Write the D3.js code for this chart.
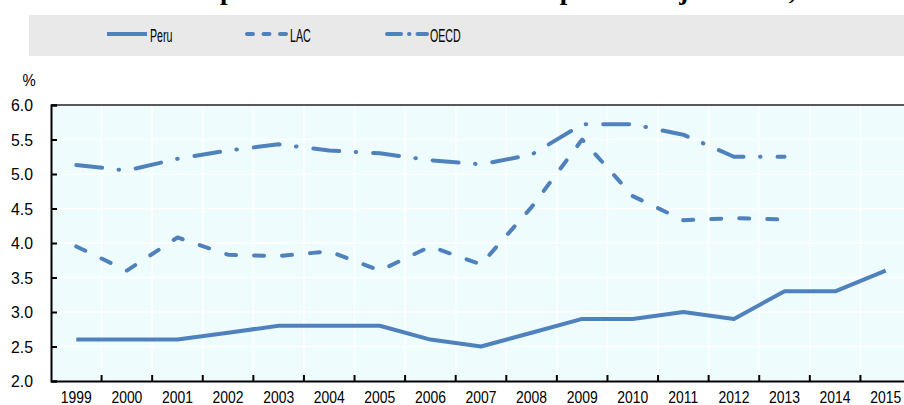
<!DOCTYPE html>
<html lang="en">
<head>
    <meta charset="utf-8">
    <title>Public expenditure - Peru, LAC, OECD</title>
    <script src="https://cdn.jsdelivr.net/npm/d3@7"></script>
    <style>
        body { margin: 0; background: #fff; }
        svg { display: block; font-family: "Liberation Sans", Arial, sans-serif; }
    </style>
</head>
<body>
    <div id="chart"></div>
    <script>
        // values, % of GDP
        var years = [1999, 2000, 2001, 2002, 2003, 2004, 2005, 2006, 2007, 2008, 2009, 2010, 2011, 2012, 2013, 2014, 2015];
        var peru = [2.6, 2.6, 2.6, 2.7, 2.8, 2.8, 2.8, 2.6, 2.5, 2.7, 2.9, 2.9, 3.0, 2.9, 3.3, 3.3, 3.6];
        var lac = [3.95, 3.6, 4.08, 3.83, 3.81, 3.88, 3.6, 3.95, 3.69, 4.52, 5.5, 4.68, 4.33, 4.36, 4.34, null, null];
        var oecd = [5.13, 5.05, 5.22, 5.34, 5.43, 5.34, 5.3, 5.2, 5.14, 5.28, 5.72, 5.72, 5.57, 5.25, 5.25, null, null];
        var yTicks = [2.0, 2.5, 3.0, 3.5, 4.0, 4.5, 5.0, 5.5, 6.0];
        var seriesNames = ["Peru", "LAC", "OECD"];
        // the title is cut off by the top edge in the source, only descenders show
        var titleText = "Trends in public education in Peru and public subject areas, LAC and OECD";

        var W = 904, H = 405, color = "#4f81bd";
        var styles = {
            Peru: {dash: null, legendDash: null},
            LAC: {dash: "10,18", legendDash: "6,10.5"},
            OECD: {dash: "26,16.5,0.5,17", legendDash: "14,8,0.5,8"}
        };
        var plot = {left: 51, right: 911, top: 105, bottom: 381};

        var svg = d3.select("#chart").append("svg").attr("width", W).attr("height", H);

        svg.append("text").attr("x", 104).attr("y", -1)
            .style("font-family", "'Liberation Serif', 'Times New Roman', serif")
            .style("font-weight", "bold").style("font-size", "27px")
            .text(titleText);

        // legend band
        svg.append("rect").attr("x", 29).attr("y", 15).attr("width", W - 29).attr("height", 41).style("fill", "#e9e9e9");
        var leg = svg.selectAll(".leg").data(seriesNames).enter().append("g")
            .attr("transform", function (d, i) { return "translate(" + (107 + i * 140) + ",0)"; });
        leg.append("line").attr("x1", 0).attr("x2", 40).attr("y1", 34).attr("y2", 34)
            .style("stroke", color).style("stroke-width", 4).style("stroke-linecap", function (d) { return d == "Peru" ? "butt" : "round"; })
            .style("stroke-dasharray", function (d) { return styles[d].legendDash; });
        leg.append("text").attr("transform", "translate(43,42) scale(0.56,1)")
            .style("font-size", "19px").style("fill", "#000").text(function (d) { return d; });

        var x = d3.scaleBand().domain(years).range([plot.left, plot.right]).padding(0);
        var y = d3.scaleLinear().domain([2, 6]).range([plot.bottom, plot.top]);
        var cx = function (yr) { return x(yr) + x.bandwidth() / 2; };

        svg.append("defs").append("clipPath").attr("id", "clip").append("rect")
            .attr("x", 0).attr("y", 0).attr("width", W).attr("height", H);

        var g = svg.append("g").attr("clip-path", "url(#clip)");
        g.append("rect").attr("x", plot.left).attr("y", plot.top)
            .attr("width", plot.right - plot.left).attr("height", plot.bottom - plot.top).style("fill", "#effcfe");

        // white grid
        g.selectAll(".hgrid").data(yTicks).enter().append("line")
            .attr("x1", plot.left).attr("x2", plot.right)
            .attr("y1", function (d) { return y(d); }).attr("y2", function (d) { return y(d); })
            .style("stroke", "#fff").style("stroke-width", 1.5);
        g.selectAll(".vgrid").data(years.slice(1)).enter().append("line")
            .attr("x1", function (d) { return x(d); }).attr("x2", function (d) { return x(d); })
            .attr("y1", plot.top).attr("y2", plot.bottom)
            .style("stroke", "#fff").style("stroke-width", 1.5);

        // series
        var line = d3.line().defined(function (d) { return d.v != null; })
            .x(function (d) { return cx(d.yr); }).y(function (d) { return y(d.v); });
        [["Peru", peru], ["LAC", lac], ["OECD", oecd]].forEach(function (s) {
            var pts = years.map(function (yr, i) { return {yr: yr, v: s[1][i]}; });
            g.append("path").datum(pts).attr("d", line)
                .style("fill", "none").style("stroke", color).style("stroke-width", 4)
                .style("stroke-linejoin", "round").style("stroke-linecap", s[0] == "Peru" ? "butt" : "round")
                .style("stroke-dasharray", styles[s[0]].dash);
        });

        // frame: top border, left and bottom axes
        g.append("line").attr("x1", plot.left).attr("x2", plot.right).attr("y1", plot.top).attr("y2", plot.top)
            .style("stroke", "#222").style("stroke-width", 1.5);

        var yAxis = g.append("g").attr("transform", "translate(" + plot.left + ",0)")
            .call(d3.axisRight(y).tickValues(yTicks).tickSize(6).tickFormat(""));
        var xAxis = g.append("g").attr("transform", "translate(0," + plot.bottom + ")")
            .call(d3.axisTop(x).tickValues([]).tickSizeOuter(0));
        xAxis.selectAll(".xt").data(years.slice(1)).enter().append("line")
            .attr("x1", function (d) { return x(d); }).attr("x2", function (d) { return x(d); })
            .attr("y1", 0).attr("y2", -6);
        [yAxis, xAxis].forEach(function (a) {
            a.selectAll("path.domain").style("stroke", "#000").style("stroke-width", 2);
            a.selectAll("line").style("stroke", "#000").style("stroke-width", 2);
        });

        // tick labels
        svg.selectAll(".ylab").data(yTicks).enter().append("text")
            .attr("transform", function (d) { return "translate(33," + (y(d) + 6) + ") scale(0.93,1)"; })
            .style("text-anchor", "end").style("font-size", "17px").text(function (d) { return d3.format(".1f")(d); });
        svg.append("text").attr("transform", "translate(29,86) scale(0.93,1)")
            .style("text-anchor", "middle").style("font-size", "16px").text("%");
        svg.selectAll(".xlab").data(years).enter().append("text")
            .attr("transform", function (d) { return "translate(" + cx(d) + ",403) scale(0.82,1)"; })
            .style("text-anchor", "middle").style("font-size", "17px").text(function (d) { return d; });
    </script>
</body>
</html>
